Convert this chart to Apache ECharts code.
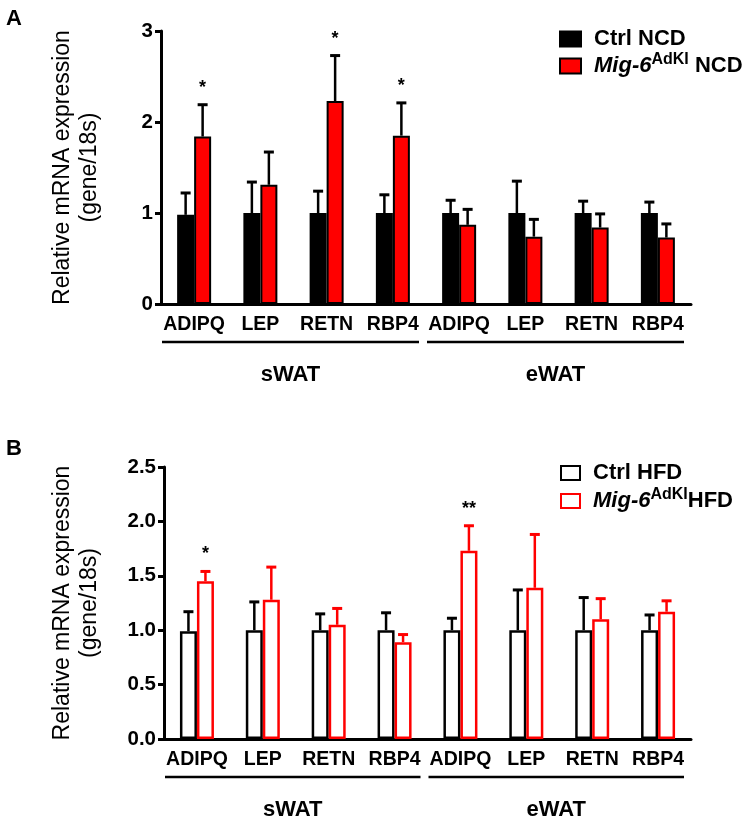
<!DOCTYPE html>
<html>
<head>
<meta charset="utf-8">
<script src="https://cdn.jsdelivr.net/npm/echarts@6/dist/echarts.min.js"></script>
<style>
  html, body { margin: 0; padding: 0; background: #fff; }
  #chart { width: 748px; height: 820px; }
</style>
</head>
<body>
<div id="chart"></div>
<script>
// gene categories (sWAT then eWAT)
const categories = ['ADIPQ', 'LEP', 'RETN', 'RBP4', 'ADIPQ', 'LEP', 'RETN', 'RBP4'];
const groups = [['sWAT', 0, 3], ['eWAT', 4, 7]];

// panel A: normal chow diet
const ctrlNcdMean = [0.98, 1.0, 1.0, 1.0, 1.0, 1.0, 1.0, 1.0];
const ctrlNcdSd = [0.24, 0.34, 0.24, 0.20, 0.14, 0.35, 0.13, 0.12];
const mig6NcdMean = [1.84, 1.31, 2.23, 1.85, 0.87, 0.74, 0.84, 0.73];
const mig6NcdSd = [0.35, 0.36, 0.50, 0.36, 0.17, 0.19, 0.15, 0.15];
const ncdStars = ['*', '', '*', '*', '', '', '', ''];

// panel B: high fat diet
const ctrlHfdMean = [0.99, 1.0, 1.0, 1.0, 1.0, 1.0, 1.0, 1.0];
const ctrlHfdSd = [0.18, 0.26, 0.15, 0.16, 0.11, 0.37, 0.30, 0.14];
const mig6HfdMean = [1.45, 1.28, 1.05, 0.89, 1.73, 1.39, 1.10, 1.17];
const mig6HfdSd = [0.09, 0.30, 0.15, 0.07, 0.23, 0.49, 0.19, 0.10];
const hfdStars = ['*', '', '', '', '**', '', '', ''];

const yTicksA = { min: 0, max: 3, interval: 1 };
const yTicksB = { min: 0, max: 2.5, interval: 0.5 };

const RED = '#ff0000';
const FONT = 'Liberation Sans, Arial, sans-serif';
const barW = 17;

const chart = echarts.init(document.getElementById('chart'));

function errorBars(sign, color) {
  return function (params, api) {
    const i = api.value(0), m = api.value(1), sd = api.value(2);
    const b = api.coord([i, m]);
    const t = api.coord([i, m + sd]);
    const x = b[0] + sign * barW / 2;
    return {
      type: 'group',
      children: [
        { type: 'line', shape: { x1: x, y1: b[1], x2: x, y2: t[1] }, style: { stroke: color, lineWidth: 2.5 } },
        { type: 'line', shape: { x1: x - 5, y1: t[1], x2: x + 5, y2: t[1] }, style: { stroke: color, lineWidth: 3 } }
      ]
    };
  };
}

function starItems(stars) {
  return function (params, api) {
    const i = api.value(0);
    const t = api.coord([i, api.value(1)]);
    return {
      type: 'text',
      style: {
        x: t[0] + barW / 2, y: t[1] - 17,
        text: stars[params.dataIndex],
        fill: '#000', font: 'bold 18px ' + FONT,
        align: 'center', verticalAlign: 'middle'
      }
    };
  };
}

function groupBrackets(params, api) {
  const g = groups[params.dataIndex];
  const band = api.size([1, 0])[0];
  const a = api.coord([api.value(0), 0]);
  const b = api.coord([api.value(1), 0]);
  const x1 = a[0] - band / 2 + 1;
  const x2 = b[0] + band / 2 - 7;
  return {
    type: 'group',
    children: [
      { type: 'line', shape: { x1: x1, y1: a[1] + 38, x2: x2, y2: a[1] + 38 }, style: { stroke: '#000', lineWidth: 2.5 } },
      {
        type: 'text',
        style: {
          x: (x1 + x2) / 2, y: a[1] + 71, text: g[0], fill: '#000',
          font: 'bold 22px ' + FONT, align: 'center', verticalAlign: 'middle'
        }
      }
    ]
  };
}

function rows(mean, sd) {
  return mean.map((m, i) => [i, m, sd[i]]);
}

const xAxisBase = {
  type: 'category',
  data: categories,
  boundaryGap: true,
  axisLine: { lineStyle: { color: '#000', width: 3 } },
  axisTick: { alignWithLabel: true, length: 6, lineStyle: { color: '#000', width: 3 } },
  axisLabel: { color: '#000', fontFamily: FONT, fontWeight: 'bold', fontSize: 19.5, margin: 11, interval: 0 }
};

const yAxisBase = {
  type: 'value',
  nameLocation: 'middle',
  nameRotate: 90,
  name: 'Relative mRNA expression\n(gene/18s)',
  nameTextStyle: { color: '#000', fontFamily: FONT, fontSize: 23, lineHeight: 27 },
  axisLine: { show: true, lineStyle: { color: '#000', width: 3 } },
  axisTick: { show: true, length: 6, lineStyle: { color: '#000', width: 3 } },
  splitLine: { show: false },
  axisLabel: { color: '#000', fontFamily: FONT, fontWeight: 'bold', fontSize: 20.5, margin: 8 }
};

const legendText = {
  color: '#000', fontFamily: FONT, fontWeight: 'bold', fontSize: 22,
  rich: {
    f: { fontFamily: FONT, fontWeight: 'bold', fontSize: 22, color: '#000', padding: [0, 0, 0, 8] },
    it: { fontFamily: FONT, fontWeight: 'bold', fontStyle: 'italic', fontSize: 22, color: '#000', padding: [0, 0, 0, 8] },
    sup: { fontFamily: FONT, fontWeight: 'bold', fontSize: 16, color: '#000', padding: [0, 0, 12, 0] },
    n: { fontFamily: FONT, fontWeight: 'bold', fontSize: 22, color: '#000' }
  }
};

const option = {
  animation: false,
  backgroundColor: '#fff',
  title: [
    { text: 'A', left: 1, top: 3, textStyle: { fontFamily: FONT, fontWeight: 'bold', fontSize: 22, color: '#000' } },
    { text: 'B', left: 1, top: 433, textStyle: { fontFamily: FONT, fontWeight: 'bold', fontSize: 22, color: '#000' } }
  ],
  legend: [
    {
      data: ['Ctrl NCD', 'Mig-6 NCD'],
      orient: 'vertical', left: 559, top: 28, padding: 0, icon: 'rect',
      itemWidth: 21, itemHeight: 15, itemGap: 2, selectedMode: false,
      textStyle: legendText,
      formatter: function (name) {
        return name === 'Ctrl NCD' ? '{f|Ctrl NCD}' : '{it|Mig-6}{sup|AdKI}{n| NCD}';
      }
    },
    {
      data: ['Ctrl HFD', 'Mig-6 HFD'],
      orient: 'vertical', left: 560, top: 462, padding: 0, icon: 'rect',
      itemWidth: 19, itemHeight: 14, itemGap: 3, selectedMode: false,
      textStyle: legendText,
      formatter: function (name) {
        return name === 'Ctrl HFD' ? '{f|Ctrl HFD}' : '{it|Mig-6}{sup|AdKI}{n|HFD}';
      }
    }
  ],
  grid: [
    { left: 161, right: 57, top: 31, height: 273 },
    { left: 164, right: 57, top: 467, height: 272 }
  ],
  xAxis: [
    Object.assign({ gridIndex: 0 }, xAxisBase),
    Object.assign({ gridIndex: 1 }, xAxisBase)
  ],
  yAxis: [
    Object.assign({ gridIndex: 0, nameGap: 58 }, yAxisBase, yTicksA),
    Object.assign({ gridIndex: 1, nameGap: 61 }, yAxisBase, yTicksB, {
      axisLabel: Object.assign({}, yAxisBase.axisLabel, { formatter: v => v.toFixed(1) })
    })
  ],
  series: [
    {
      name: 'Ctrl NCD', type: 'bar', xAxisIndex: 0, yAxisIndex: 0,
      barWidth: barW, barGap: '0%', data: ctrlNcdMean,
      itemStyle: { color: '#000', borderColor: '#000', borderWidth: 2 }
    },
    {
      name: 'Mig-6 NCD', type: 'bar', xAxisIndex: 0, yAxisIndex: 0,
      barWidth: barW, barGap: '0%', data: mig6NcdMean,
      itemStyle: { color: RED, borderColor: '#000', borderWidth: 2 }
    },
    {
      type: 'custom', xAxisIndex: 0, yAxisIndex: 0, clip: false,
      renderItem: errorBars(-1, '#000'), data: rows(ctrlNcdMean, ctrlNcdSd), encode: { x: 0, y: 1 }
    },
    {
      type: 'custom', xAxisIndex: 0, yAxisIndex: 0, clip: false,
      renderItem: errorBars(1, '#000'), data: rows(mig6NcdMean, mig6NcdSd), encode: { x: 0, y: 1 }
    },
    {
      type: 'custom', xAxisIndex: 0, yAxisIndex: 0, clip: false,
      renderItem: starItems(ncdStars),
      data: mig6NcdMean.map((m, i) => [i, m + mig6NcdSd[i]]), encode: { x: 0, y: 1 }
    },
    {
      type: 'custom', xAxisIndex: 0, yAxisIndex: 0, clip: false,
      renderItem: groupBrackets, data: groups.map(g => [g[1], g[2]]), encode: { x: [0, 1] }
    },

    {
      name: 'Ctrl HFD', type: 'bar', xAxisIndex: 1, yAxisIndex: 1,
      barWidth: barW, barGap: '0%', data: ctrlHfdMean,
      itemStyle: { color: '#fff', borderColor: '#000', borderWidth: 2.5 }
    },
    {
      name: 'Mig-6 HFD', type: 'bar', xAxisIndex: 1, yAxisIndex: 1,
      barWidth: barW, barGap: '0%', data: mig6HfdMean,
      itemStyle: { color: '#fff', borderColor: RED, borderWidth: 2.5 }
    },
    {
      type: 'custom', xAxisIndex: 1, yAxisIndex: 1, clip: false,
      renderItem: errorBars(-1, '#000'), data: rows(ctrlHfdMean, ctrlHfdSd), encode: { x: 0, y: 1 }
    },
    {
      type: 'custom', xAxisIndex: 1, yAxisIndex: 1, clip: false,
      renderItem: errorBars(1, RED), data: rows(mig6HfdMean, mig6HfdSd), encode: { x: 0, y: 1 }
    },
    {
      type: 'custom', xAxisIndex: 1, yAxisIndex: 1, clip: false,
      renderItem: starItems(hfdStars),
      data: mig6HfdMean.map((m, i) => [i, m + mig6HfdSd[i]]), encode: { x: 0, y: 1 }
    },
    {
      type: 'custom', xAxisIndex: 1, yAxisIndex: 1, clip: false,
      renderItem: groupBrackets, data: groups.map(g => [g[1], g[2]]), encode: { x: [0, 1] }
    }
  ]
};

chart.setOption(option);
window.addEventListener('resize', () => chart.resize());
</script>
</body>
</html>
